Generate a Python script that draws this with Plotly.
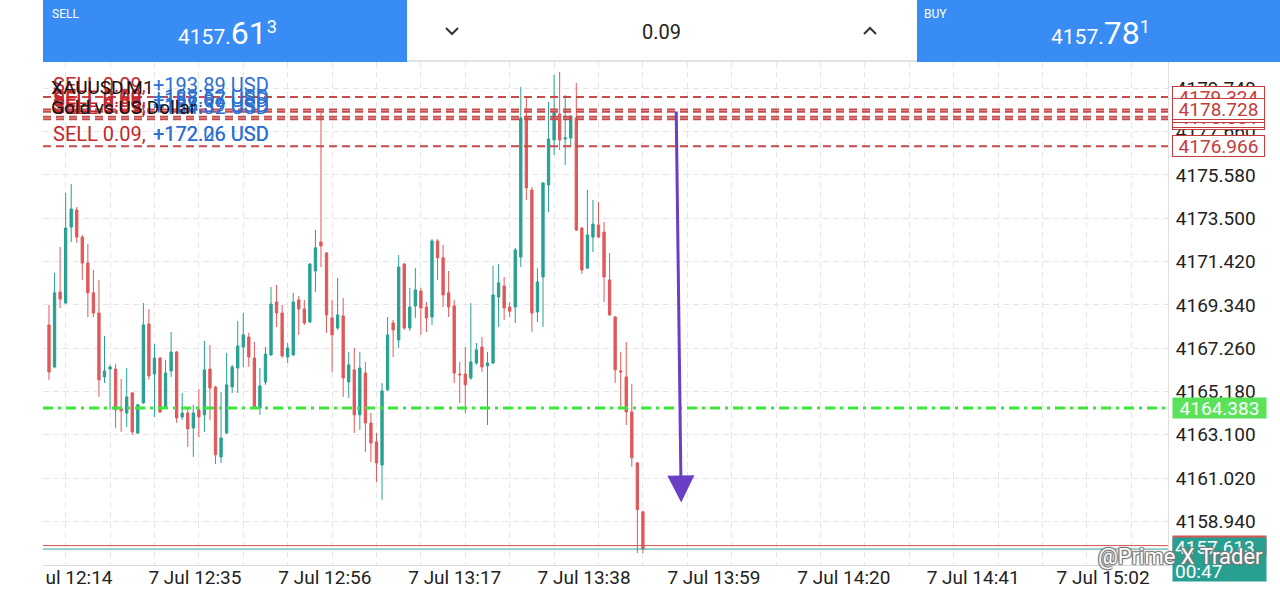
import plotly.graph_objects as go

W, H = 1280, 591

# ---------------- data ----------------
bar_index = list(range(108))
open_ = [4168.38, 4166.36, 4169.96, 4169.43, 4173.08, 4173.90, 4172.60, 4171.35, 4169.92, 4168.95,
         4165.88, 4166.26, 4166.26, 4164.35, 4164.15, 4165.11, 4163.19, 4164.63, 4168.42, 4166.02,
         4166.79, 4164.44, 4166.17, 4167.08, 4163.96, 4164.15, 4163.43, 4164.30, 4164.06, 4166.26,
         4165.40, 4162.04, 4163.19, 4165.40, 4166.31, 4167.32, 4167.80, 4166.79, 4164.39, 4165.64,
         4166.94, 4169.48, 4168.95, 4166.84, 4166.94, 4169.58, 4169.14, 4168.52, 4170.97, 4172.36,
         4171.83, 4168.71, 4168.23, 4168.81, 4165.64, 4166.22, 4164.06, 4166.07, 4163.67, 4162.76,
         4161.65, 4165.26, 4168.47, 4167.66, 4171.30, 4168.23, 4169.29, 4170.01, 4169.24, 4168.76,
         4172.41, 4171.60, 4169.92, 4169.29, 4166.02, 4166.02, 4165.83, 4166.55, 4167.32, 4166.41,
         4166.55, 4169.72, 4170.25, 4169.24, 4169.24, 4171.64, 4178.32, 4174.86, 4169.00, 4170.68,
         4175.10, 4177.26, 4178.51, 4177.31, 4177.36, 4178.32, 4173.03, 4171.11, 4172.60, 4173.18,
         4172.84, 4170.54, 4168.76, 4166.17, 4165.88, 4164.20, 4161.75, 4159.40]
high = [4169.34, 4170.88, 4172.12, 4174.72, 4175.15, 4174.04, 4172.70, 4172.27, 4171.02, 4170.54,
        4167.85, 4166.46, 4166.50, 4165.78, 4166.31, 4165.16, 4164.59, 4169.43, 4169.14, 4167.46,
        4166.84, 4166.70, 4168.04, 4167.13, 4165.11, 4164.39, 4164.54, 4165.30, 4167.61, 4167.42,
        4165.45, 4165.16, 4167.03, 4166.46, 4168.57, 4168.95, 4168.00, 4167.56, 4166.31, 4167.32,
        4170.20, 4170.30, 4169.34, 4167.51, 4169.91, 4169.77, 4169.58, 4171.35, 4172.94, 4178.56,
        4171.88, 4169.58, 4170.64, 4169.67, 4167.08, 4167.27, 4167.08, 4166.60, 4164.15, 4163.19,
        4165.59, 4168.76, 4168.62, 4171.74, 4171.35, 4170.16, 4171.11, 4170.16, 4169.48, 4172.50,
        4172.50, 4172.22, 4170.97, 4169.58, 4166.60, 4167.32, 4169.43, 4167.51, 4167.80, 4167.08,
        4171.21, 4171.30, 4170.68, 4169.48, 4172.07, 4179.81, 4179.33, 4175.00, 4171.11, 4175.24,
        4179.09, 4180.38, 4180.53, 4179.42, 4178.46, 4180.00, 4173.08, 4174.86, 4174.38, 4174.28,
        4173.32, 4171.83, 4168.81, 4167.08, 4167.56, 4165.54, 4161.80, 4159.45]
low = [4165.74, 4166.30, 4169.19, 4169.38, 4172.36, 4172.32, 4170.54, 4168.76, 4168.76, 4164.92,
       4165.59, 4164.30, 4163.43, 4163.24, 4163.48, 4163.09, 4163.14, 4164.59, 4165.74, 4163.96,
       4164.15, 4164.39, 4165.88, 4163.67, 4163.82, 4162.52, 4162.04, 4162.99, 4163.24, 4163.82,
       4161.70, 4161.75, 4163.14, 4165.11, 4165.11, 4166.36, 4166.36, 4164.34, 4164.06, 4165.50,
       4166.89, 4168.28, 4166.79, 4166.55, 4166.89, 4167.90, 4168.38, 4168.47, 4169.96, 4171.16,
       4168.00, 4166.12, 4168.14, 4164.92, 4164.87, 4163.19, 4163.34, 4162.28, 4161.80, 4160.84,
       4159.98, 4165.21, 4166.84, 4167.27, 4168.14, 4168.09, 4168.71, 4167.90, 4168.04, 4168.38,
       4170.54, 4169.24, 4168.76, 4165.59, 4164.63, 4164.15, 4165.74, 4166.46, 4166.12, 4163.57,
       4166.50, 4168.28, 4168.62, 4168.76, 4168.47, 4171.16, 4174.38, 4168.04, 4168.52, 4168.28,
       4173.80, 4176.54, 4176.78, 4176.06, 4176.92, 4172.89, 4170.83, 4171.06, 4171.88, 4172.55,
       4169.48, 4168.81, 4165.59, 4164.44, 4163.57, 4161.56, 4157.42, 4157.42]
close = [4166.12, 4169.92, 4169.62, 4173.03, 4173.95, 4172.60, 4171.35, 4169.92, 4168.95, 4165.74,
         4166.17, 4166.36, 4164.30, 4164.25, 4164.92, 4163.24, 4164.54, 4168.38, 4165.93, 4166.79,
         4164.20, 4166.07, 4167.08, 4163.91, 4164.15, 4163.38, 4164.15, 4163.96, 4166.22, 4165.35,
         4162.14, 4162.95, 4165.50, 4166.36, 4167.37, 4167.90, 4166.84, 4164.39, 4165.45, 4166.98,
         4169.38, 4168.95, 4166.89, 4167.27, 4169.48, 4169.14, 4168.47, 4171.30, 4172.08, 4172.17,
         4168.86, 4167.90, 4168.86, 4165.83, 4166.46, 4164.06, 4166.31, 4163.67, 4162.71, 4161.75,
         4165.21, 4167.90, 4168.14, 4171.16, 4168.23, 4169.24, 4170.06, 4169.19, 4168.71, 4172.41,
         4171.60, 4169.82, 4169.24, 4166.07, 4165.98, 4165.50, 4166.60, 4167.18, 4166.36, 4166.55,
         4169.82, 4170.40, 4169.19, 4169.04, 4171.98, 4178.32, 4174.96, 4168.95, 4170.44, 4175.20,
         4177.31, 4178.56, 4177.26, 4177.36, 4178.41, 4172.94, 4171.02, 4172.70, 4173.22, 4172.60,
         4170.68, 4168.86, 4166.22, 4166.12, 4164.20, 4162.00, 4159.50, 4157.613]

sell_level_prices = [4178.262, 4178.381, 4178.612, 4179.324, 4178.728, 4176.966]
sell_profit_labels = ["+184.32 USD", "+185.39 USD", "+187.07 USD", "+193.89 USD", "+188.52 USD", "+172.06 USD"]
sell_extra_profit = "+172.26 USD"
green_level = 4164.383
bid_price = 4157.613
ask_price = 4157.781
countdown = "00:47"

price_ticks = [4158.94, 4161.02, 4163.10, 4165.18, 4167.26, 4169.34, 4171.42, 4173.50, 4175.58, 4177.66, 4179.74]
time_tick_pos = [5.4, 26.3, 49.7, 73.1, 96.4, 119.8, 143.2, 166.5, 189.9]
time_tick_labels = ["ul 12:14", "7 Jul 12:35", "7 Jul 12:56", "7 Jul 13:17", "7 Jul 13:38",
                    "7 Jul 13:59", "7 Jul 14:20", "7 Jul 14:41", "7 Jul 15:02"]
grid_pos = [3 + 8 * k for k in range(25)]

arrow_tail = (113.0, 4178.70)
arrow_tip = (113.9, 4159.85)

x_range = [-1.08, 201.6]
y_range = [4156.848, 4181.007]

# ---------------- style ----------------
TEAL = "#27a092"
RED = "#e0585a"
LEVEL_RED = "#c64a4a"
BOX_RED = "#c43c3c"
BLUE_BAR = "#3a8cf5"
FONT = "Roboto"


def px(xp):
    return xp / W


def py(yp):
    return 1 - yp / H


fig = go.Figure()
fig.add_trace(go.Candlestick(
    x=bar_index, open=open_, high=high, low=low, close=close,
    increasing=dict(line=dict(color=TEAL, width=1), fillcolor=TEAL),
    decreasing=dict(line=dict(color=RED, width=1), fillcolor=RED),
    whiskerwidth=0, showlegend=False, hoverinfo="skip"))

shapes = []
# top bar
shapes.append(dict(type="rect", xref="paper", yref="paper", x0=px(43), x1=px(407), y0=py(62), y1=1,
                   fillcolor=BLUE_BAR, line=dict(width=0), layer="above"))
shapes.append(dict(type="rect", xref="paper", yref="paper", x0=px(917), x1=1, y0=py(62), y1=1,
                   fillcolor=BLUE_BAR, line=dict(width=0), layer="above"))
shapes.append(dict(type="line", xref="paper", yref="paper", x0=px(407), x1=px(917), y0=py(61), y1=py(61),
                   line=dict(color="#e2e2e2", width=2), layer="above"))
# chevrons
shapes.append(dict(type="path", xref="paper", yref="paper",
                   path=f"M {px(446)} {py(28)} L {px(452)} {py(34)} L {px(458)} {py(28)}",
                   line=dict(color="#333", width=2), layer="above"))
shapes.append(dict(type="path", xref="paper", yref="paper",
                   path=f"M {px(864)} {py(34)} L {px(870)} {py(28)} L {px(876)} {py(34)}",
                   line=dict(color="#333", width=2), layer="above"))

# sell levels
for p in sell_level_prices:
    shapes.append(dict(type="line", xref="x domain", yref="y", x0=0, x1=1, y0=p, y1=p,
                       line=dict(color=LEVEL_RED, width=2, dash="8px,5px"), layer="above"))
# green level
shapes.append(dict(type="line", xref="x domain", yref="y", x0=0, x1=1, y0=green_level, y1=green_level,
                   line=dict(color="#3de63d", width=3, dash="10px,5px,3px,5px"), layer="above"))
# ask / bid
shapes.append(dict(type="line", xref="x domain", yref="y", x0=0, x1=1, y0=ask_price, y1=ask_price,
                   line=dict(color="#d85656", width=1), layer="above"))
shapes.append(dict(type="line", xref="x domain", yref="y", x0=0, x1=1, y0=bid_price, y1=bid_price,
                   line=dict(color="#3a9e98", width=1), layer="above"))

annotations = []
# top bar texts
annotations.append(dict(xref="paper", yref="paper", x=px(50), y=py(14), text="SELL", showarrow=False,
                        xanchor="left", yanchor="middle", font=dict(family=FONT, size=12, color="white")))
annotations.append(dict(xref="paper", yref="paper", x=px(922), y=py(14), text="BUY", showarrow=False,
                        xanchor="left", yanchor="middle", font=dict(family=FONT, size=12, color="white")))
annotations.append(dict(xref="paper", yref="paper", x=px(176), y=py(33),
                        text="4157.<span style='font-size:32px'>61</span><span style='font-size:26px'><sup>3</sup></span>",
                        showarrow=False, xanchor="left", yanchor="middle",
                        font=dict(family=FONT, size=21, color="white")))
annotations.append(dict(xref="paper", yref="paper", x=px(1049), y=py(33),
                        text="4157.<span style='font-size:32px'>78</span><span style='font-size:26px'><sup>1</sup></span>",
                        showarrow=False, xanchor="left", yanchor="middle",
                        font=dict(family=FONT, size=21, color="white")))
annotations.append(dict(xref="paper", yref="paper", x=px(661), y=py(32), text="0.09", showarrow=False,
                        xanchor="center", yanchor="middle", font=dict(family=FONT, size=20, color="#222")))

# left position labels
for p, t in zip(sell_level_prices, sell_profit_labels):
    annotations.append(dict(xref="paper", yref="y", x=px(51), y=p, yshift=12, text="SELL 0.09,",
                            showarrow=False, xanchor="left", yanchor="middle",
                            font=dict(family=FONT, size=20, color="#c4262c")))
    annotations.append(dict(xref="paper", yref="y", x=px(151), y=p, yshift=12, text=t,
                            showarrow=False, xanchor="left", yanchor="middle",
                            font=dict(family=FONT, size=20, color="#2b6fd2")))
annotations.append(dict(xref="paper", yref="y", x=px(151), y=sell_level_prices[-1], yshift=12,
                        text=sell_extra_profit, showarrow=False, xanchor="left", yanchor="middle",
                        font=dict(family=FONT, size=20, color="#2b6fd2")))
annotations.append(dict(xref="paper", yref="paper", x=px(49), y=py(87), text="XAUUSD,M1", showarrow=False,
                        xanchor="left", yanchor="middle", font=dict(family=FONT, size=19, color="#111")))
annotations.append(dict(xref="paper", yref="paper", x=px(49), y=py(107), text="Gold vs US Dollar",
                        showarrow=False, xanchor="left", yanchor="middle",
                        font=dict(family=FONT, size=19, color="#111")))

# right price boxes
for p in sell_level_prices:
    annotations.append(dict(xref="paper", yref="y", x=px(1172), y=p, text=f"{p:.3f}", showarrow=False,
                            xanchor="left", yanchor="middle", bgcolor="white", bordercolor=BOX_RED,
                            borderwidth=1, borderpad=2, width=87, height=16, align="center",
                            font=dict(family=FONT, size=19, color=BOX_RED)))
annotations.append(dict(xref="paper", yref="y", x=px(1172), y=green_level, text=f"{green_level:.3f}",
                        showarrow=False, xanchor="left", yanchor="middle", bgcolor="#5ae35a",
                        borderpad=2, width=89, height=16, align="center",
                        font=dict(family=FONT, size=19, color="white")))
annotations.append(dict(xref="paper", yref="y", x=px(1172), y=ask_price, text=f"{ask_price:.3f}",
                        showarrow=False, xanchor="left", yanchor="middle", bgcolor="#d85656",
                        borderpad=2, width=89, height=16, align="center",
                        font=dict(family=FONT, size=19, color="white")))
annotations.append(dict(xref="paper", yref="y", x=px(1172), y=bid_price, yshift=12,
                        text=f"{bid_price:.3f}<br>{countdown}", showarrow=False, xanchor="left",
                        yanchor="top", bgcolor="#27a092", borderpad=2, width=89, height=39, align="left",
                        font=dict(family=FONT, size=19, color="white")))

# drawn arrow
annotations.append(dict(x=arrow_tip[0], y=arrow_tip[1], ax=arrow_tail[0], ay=arrow_tail[1],
                        xref="x", yref="y", axref="x", ayref="y", showarrow=True, text="",
                        arrowhead=2, arrowsize=1.8, arrowwidth=3, arrowcolor="#6a3ec6"))

# watermark
annotations.append(dict(xref="paper", yref="paper", x=px(1096), y=py(556), text="@Prime X Trader",
                        showarrow=False, xanchor="left", yanchor="middle",
                        font=dict(family=FONT, size=22, color="white",
                                  shadow="1px 1px 1px #777, -1px -1px 1px #777, 1px -1px 1px #777, -1px 1px 1px #777")))

fig.update_layout(
    width=W, height=H,
    margin=dict(l=0, r=0, t=0, b=0),
    paper_bgcolor="white", plot_bgcolor="white",
    showlegend=False,
    boxgap=0.4,
    shapes=shapes,
    annotations=annotations,
    xaxis=dict(domain=[px(43), px(1168)], range=x_range, rangeslider=dict(visible=False),
               tickmode="array", tickvals=time_tick_pos, ticktext=time_tick_labels,
               showgrid=False, zeroline=False, ticks="", showline=True, linecolor="#d9d9d9",
               linewidth=1, automargin=False, ticklabelstandoff=-5,
               tickfont=dict(family=FONT, size=19, color="#222"),
               minor=dict(tickmode="array", tickvals=grid_pos, showgrid=True, gridcolor="#e6e6e6",
                          gridwidth=1, griddash="6px,4px", ticks="")),
    yaxis=dict(domain=[py(565), py(62)], range=y_range, side="right", tickmode="array",
               tickvals=price_ticks, tickformat=".3f", showgrid=True, gridcolor="#e6e6e6",
               griddash="6px,4px", zeroline=False, ticks="", showline=True, linecolor="#e0e0e0",
               automargin=False, ticklabelstandoff=3,
               tickfont=dict(family=FONT, size=19, color="#222")),
)

fig.write_html("out.html")
